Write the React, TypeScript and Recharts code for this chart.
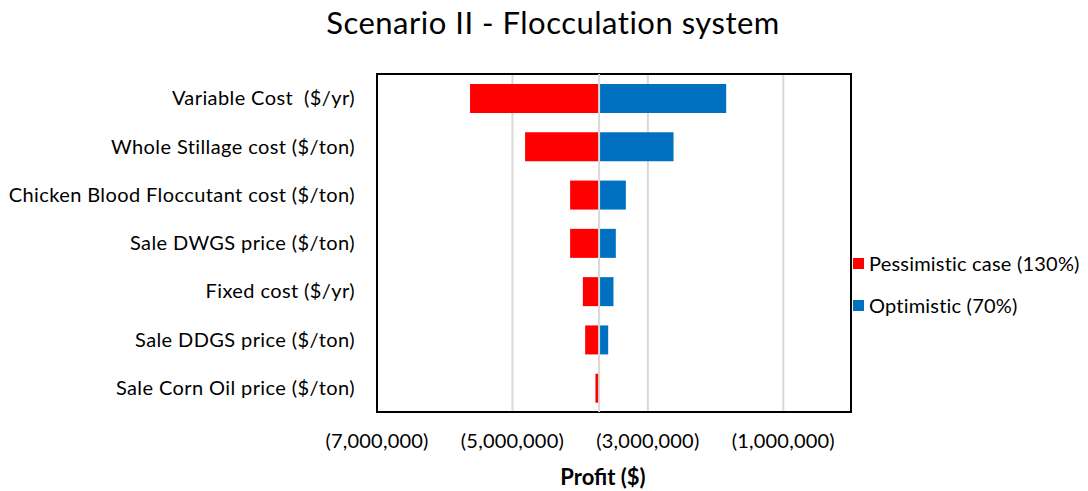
import React from 'react';
import { BarChart, Bar, XAxis, YAxis, CartesianGrid, ReferenceLine, ReferenceArea } from 'recharts';

// Tornado chart: profit range for each parameter around the base case
const categories = [
  'Variable Cost \u00a0($/yr)',
  'Whole Stillage cost ($/ton)',
  'Chicken Blood Floccutant cost ($/ton)',
  'Sale DWGS price ($/ton)',
  'Fixed cost ($/yr)',
  'Sale DDGS price ($/ton)',
  'Sale Corn Oil price ($/ton)',
];
const baseProfit = -3720000;
const pessimistic = [-5626000, -4813000, -4148000, -4148000, -3960000, -3926000, -3774000];
const optimistic = [-1843000, -2621000, -3325000, -3473000, -3508000, -3586000, -3712000];
const xTicks = [-7000000, -5000000, -3000000, -1000000];

const FONT = 'Lato, "Open Sans", sans-serif';

const data = categories.map((name, i) => ({
  name,
  pess: [pessimistic[i], baseProfit],
  opt: [baseProfit, optimistic[i]],
}));

const fmt = (v: number) => {
  const s = Math.abs(v).toLocaleString('en-US');
  return v < 0 ? `(${s})` : s;
};

export default function App() {
  return (
    <div style={{ position: 'absolute', left: 0, top: 0, width: 1088, height: 491, background: '#fff', fontFamily: FONT }}>
      <div style={{ position: 'absolute', top: 3, left: 0, width: 1106, textAlign: 'center', fontSize: 31, letterSpacing: 0.5, color: '#000' }}>
        Scenario II - Flocculation system
      </div>
      <BarChart
        width={1088}
        height={491}
        data={data}
        layout="vertical"
        margin={{ top: 74, right: 237, bottom: 49, left: 0 }}
        barSize={29}
        barGap={-29}
      >
        <CartesianGrid horizontal={false} stroke="#D9D9D9" strokeWidth={2} />
        <XAxis
          type="number"
          domain={[-7000000, 0]}
          ticks={xTicks}
          tickFormatter={fmt}
          height={30}
          axisLine={false}
          tickLine={false}
          tickSize={0}
          tickMargin={22}
          tick={{ fontSize: 20, letterSpacing: 0.2, fill: '#000', fontFamily: FONT }}
        />
        <YAxis
          type="category"
          dataKey="name"
          width={377}
          axisLine={false}
          tickLine={false}
          tickSize={0}
          tickMargin={22}
          interval={0}
          tick={{ fontSize: 20, letterSpacing: 0.4, fill: '#000', fontFamily: FONT }}
        />
        <ReferenceLine x={baseProfit} stroke="#D9D9D9" strokeWidth={2} />
        <Bar dataKey="pess" fill="#FF0000" isAnimationActive={false} />
        <Bar dataKey="opt" fill="#0070C0" isAnimationActive={false} />
        <ReferenceArea x1={-7000000} x2={0} fill="none" stroke="#000" strokeWidth={2} ifOverflow="visible" />
      </BarChart>
      <div style={{ position: 'absolute', left: 553, top: 463, width: 100, textAlign: 'center', fontSize: 22, fontWeight: 700 }}>
        Profit ($)
      </div>
      <div style={{ position: 'absolute', left: 853, top: 250, fontSize: 20, letterSpacing: 0.2, lineHeight: '26px' }}>
        <div style={{ display: 'flex', alignItems: 'center' }}>
          <span style={{ width: 11, height: 11, background: '#FF0000', marginRight: 5 }} />
          Pessimistic case (130%)
        </div>
        <div style={{ display: 'flex', alignItems: 'center', marginTop: 16 }}>
          <span style={{ width: 11, height: 11, background: '#0070C0', marginRight: 5 }} />
          Optimistic (70%)
        </div>
      </div>
    </div>
  );
}
